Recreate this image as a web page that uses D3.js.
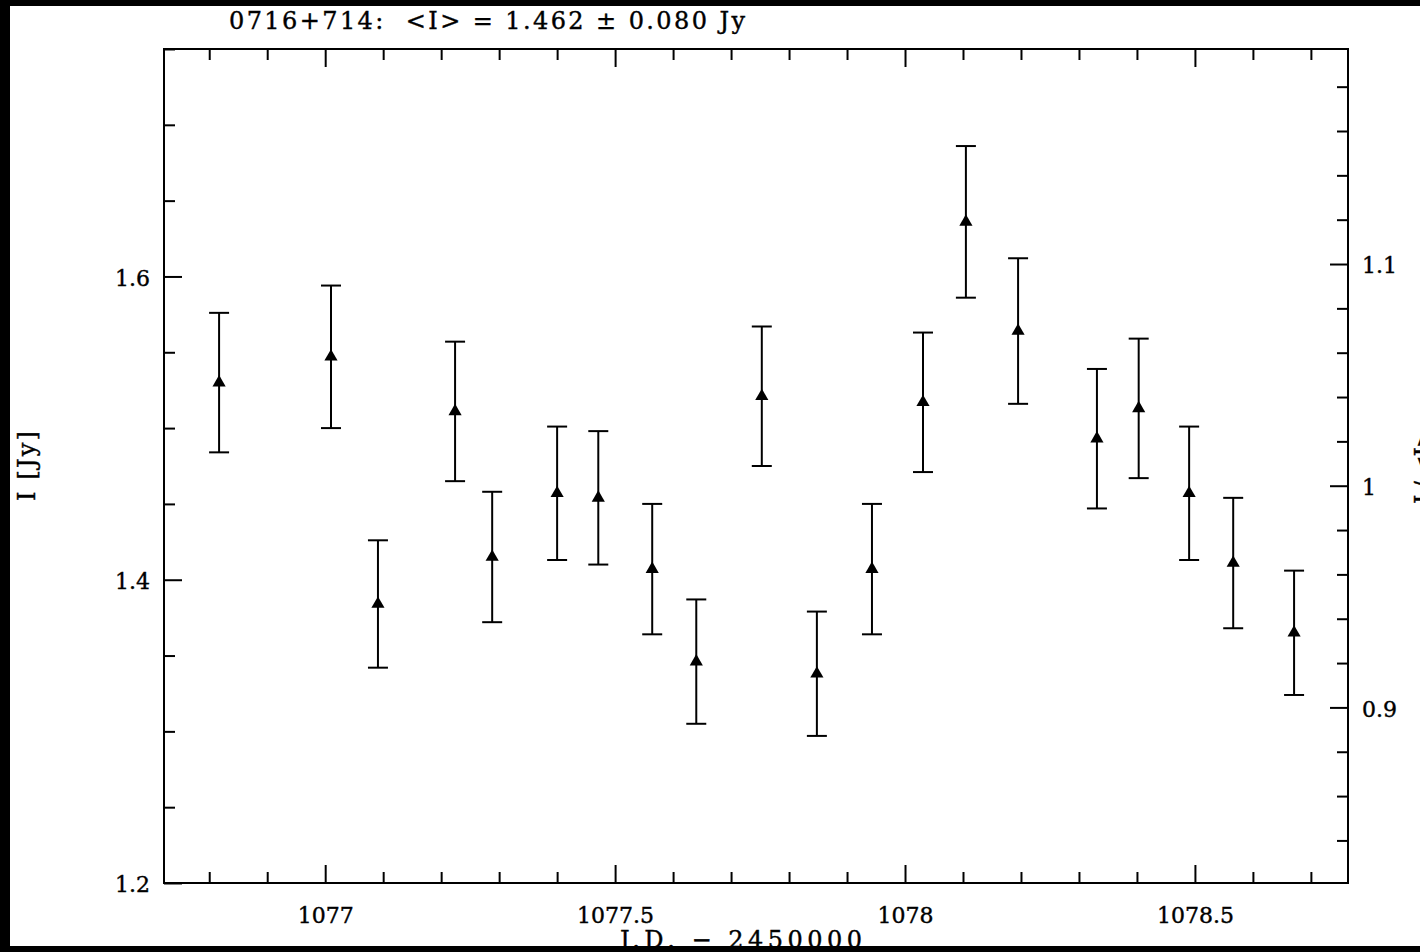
<!DOCTYPE html>
<html lang="en">
<head>
    <meta charset="UTF-8">
    <title>0716+714 light curve</title>
    <script src="https://d3js.org/d3.v7.min.js"></script>
    <style>
        body {
            margin: 0;
            padding: 0;
            background-color: #fff;
        }
        svg text {
            font-family: "DejaVu Serif", serif;
            fill: #000;
            stroke: #000;
            stroke-width: 0.4px;
        }
        .axis path, .axis line {
            stroke: #000;
            stroke-width: 2;
        }
        .axis text {
            font-size: 22px;
            font-family: "DejaVu Serif", serif;
        }
    </style>
</head>
<body>
    <div id="chart"></div>
    <script>
        // observation times (J.D. - 2450000)
        const times = [1076.817, 1077.010, 1077.091, 1077.224, 1077.288, 1077.400, 1077.471,
            1077.564, 1077.640, 1077.753, 1077.848, 1077.943, 1078.031, 1078.105,
            1078.195, 1078.331, 1078.403, 1078.490, 1078.566, 1078.671];
        // flux density I [Jy]
        const fluxes = [1.530, 1.547, 1.384, 1.511, 1.415, 1.457, 1.454,
            1.407, 1.346, 1.521, 1.338, 1.407, 1.517, 1.636,
            1.564, 1.493, 1.513, 1.457, 1.411, 1.365];
        // 1-sigma errors [Jy]
        const errors = [0.046, 0.047, 0.042, 0.046, 0.043, 0.044, 0.044,
            0.043, 0.041, 0.046, 0.041, 0.043, 0.046, 0.050,
            0.048, 0.046, 0.046, 0.044, 0.043, 0.041];

        const meanFlux = 1.462;
        const xTicksMajor = [1077, 1077.5, 1078, 1078.5];
        const yTicksMajor = [1.2, 1.4, 1.6];
        const rTicksMajor = [0.9, 1, 1.1];

        const width = 1420;
        const height = 952;
        const frame = { left: 164, right: 1348, top: 49, bottom: 883 };

        const svg = d3.select("#chart")
            .append("svg")
            .attr("width", width)
            .attr("height", height);

        svg.append("rect").attr("width", width).attr("height", height).attr("fill", "#fff");

        const x = d3.scaleLinear().domain([1076.722, 1078.764]).range([frame.left, frame.right]);
        const y = d3.scaleLinear().domain([1.2, 1.75]).range([frame.bottom, frame.top]);
        const yr = d3.scaleLinear().domain([1.2 / meanFlux, 1.75 / meanFlux]).range([frame.bottom, frame.top]);

        const plotH = frame.bottom - frame.top;
        const plotW = frame.right - frame.left;
        const majorLen = 18, minorLen = 11;

        const xMinor = d3.range(1076.8, 1078.76, 0.1).filter(t => !xTicksMajor.some(m => Math.abs(m - t) < 1e-6));
        const yMinor = d3.range(1.25, 1.751, 0.05).filter(v => !yTicksMajor.some(m => Math.abs(m - v) < 1e-6));
        const rMinor = d3.range(0.84, 1.19, 0.02).filter(v => !rTicksMajor.some(m => Math.abs(m - v) < 1e-6));

        function addAxis(axis, tx, ty) {
            const g = svg.append("g")
                .attr("class", "axis")
                .attr("transform", `translate(${tx},${ty})`)
                .call(axis);
            g.select(".domain").remove();
            return g;
        }

        // bottom
        addAxis(d3.axisBottom(x).tickValues(xTicksMajor).tickSize(-majorLen).tickPadding(majorLen + 18)
            .tickFormat(d3.format("")), 0, frame.bottom)
            .selectAll("text").attr("dy", "0.2em");
        addAxis(d3.axisBottom(x).tickValues(xMinor).tickSize(-minorLen).tickFormat(""), 0, frame.bottom);
        // top
        addAxis(d3.axisTop(x).tickValues(xTicksMajor).tickSize(-majorLen).tickFormat(""), 0, frame.top);
        addAxis(d3.axisTop(x).tickValues(xMinor).tickSize(-minorLen).tickFormat(""), 0, frame.top);
        // left
        addAxis(d3.axisLeft(y).tickValues(yTicksMajor).tickSize(-majorLen).tickPadding(14)
            .tickFormat(d3.format(".1f")), frame.left, 0)
            .selectAll("text").attr("dy", "0.4em");
        addAxis(d3.axisLeft(y).tickValues(yMinor).tickSize(-minorLen).tickFormat(""), frame.left, 0);
        // right
        addAxis(d3.axisRight(yr).tickValues(rTicksMajor).tickSize(-majorLen).tickPadding(14)
            .tickFormat(d => d === 1 ? "1" : d3.format(".1f")(d)), frame.right, 0)
            .selectAll("text").attr("dy", "0.4em");
        addAxis(d3.axisRight(yr).tickValues(rMinor).tickSize(-minorLen).tickFormat(""), frame.right, 0);

        // frame box
        svg.append("rect")
            .attr("x", frame.left)
            .attr("y", frame.top)
            .attr("width", plotW)
            .attr("height", plotH)
            .attr("fill", "none")
            .attr("stroke", "#000")
            .attr("stroke-width", 2);

        // data
        const data = times.map((t, i) => ({ t: t, v: fluxes[i], e: errors[i] }));
        const capHalf = 10;

        const pts = svg.append("g").selectAll("g")
            .data(data)
            .join("g");

        pts.append("line")
            .attr("x1", d => x(d.t)).attr("x2", d => x(d.t))
            .attr("y1", d => y(d.v + d.e)).attr("y2", d => y(d.v - d.e))
            .attr("stroke", "#000").attr("stroke-width", 2);
        pts.append("line")
            .attr("x1", d => x(d.t) - capHalf).attr("x2", d => x(d.t) + capHalf)
            .attr("y1", d => y(d.v + d.e)).attr("y2", d => y(d.v + d.e))
            .attr("stroke", "#000").attr("stroke-width", 2);
        pts.append("line")
            .attr("x1", d => x(d.t) - capHalf).attr("x2", d => x(d.t) + capHalf)
            .attr("y1", d => y(d.v - d.e)).attr("y2", d => y(d.v - d.e))
            .attr("stroke", "#000").attr("stroke-width", 2);
        pts.append("path")
            .attr("d", d3.symbol(d3.symbolTriangle, 75))
            .attr("transform", d => `translate(${x(d.t)},${y(d.v)})`)
            .attr("fill", "#000");

        // title
        svg.append("text")
            .attr("x", 229)
            .attr("y", 29)
            .attr("font-size", 24)
            .attr("textLength", 516)
            .attr("lengthAdjust", "spacing")
            .attr("xml:space", "preserve")
            .text("0716+714:  <I> = 1.462 ± 0.080 Jy");

        // axis labels
        svg.append("text")
            .attr("transform", "translate(35,466) rotate(-90)")
            .attr("text-anchor", "middle")
            .attr("font-size", 24)
            .attr("textLength", 70)
            .attr("lengthAdjust", "spacing")
            .text("I [Jy]");

        svg.append("text")
            .attr("transform", "translate(1432,466) rotate(-90)")
            .attr("text-anchor", "middle")
            .attr("font-size", 24)
            .attr("textLength", 76)
            .attr("lengthAdjust", "spacing")
            .text("I / <I>");

        svg.append("text")
            .attr("x", 741)
            .attr("y", 948)
            .attr("text-anchor", "middle")
            .attr("font-size", 24)
            .attr("textLength", 242)
            .attr("lengthAdjust", "spacing")
            .text("J.D. \u2212 2450000");

        // black borders of the original screenshot
        svg.append("rect").attr("x", 0).attr("y", 0).attr("width", width).attr("height", 6).attr("fill", "#000");
        svg.append("rect").attr("x", 0).attr("y", 0).attr("width", 10).attr("height", height).attr("fill", "#000");
        svg.append("rect").attr("x", 0).attr("y", 946).attr("width", width).attr("height", 6).attr("fill", "#000");
    </script>
</body>
</html>
